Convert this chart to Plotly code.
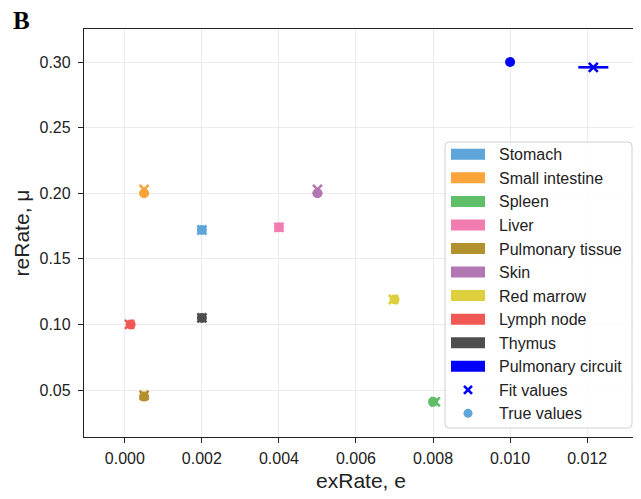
import plotly.graph_objects as go

organs = ["Stomach", "Small intestine", "Spleen", "Liver", "Pulmonary tissue",
          "Skin", "Red marrow", "Lymph node", "Thymus", "Pulmonary circuit"]
colors = ["#5DA5DA", "#FAA43A", "#60BD68", "#F17CB0", "#B2912F",
          "#B276B2", "#DECF3F", "#F15854", "#4D4D4D", "#0000FF"]

true_ex = [0.0020, 0.0005, 0.0080, 0.0040, 0.0005, 0.0050, 0.0070, 0.00015, 0.0020, 0.0100]
true_re = [0.172, 0.200, 0.041, 0.174, 0.045, 0.200, 0.119, 0.100, 0.105, 0.300]
fit_ex = [0.0020, 0.0005, 0.00806, 0.0040, 0.0005, 0.0050, 0.00697, 0.00012, 0.0020, 0.01216]
fit_re = [0.172, 0.203, 0.041, 0.174, 0.046, 0.203, 0.119, 0.100, 0.105, 0.296]
fit_ex_err = [0.00002, 0.00002, 0.00003, 0.00002, 0.00002, 0.00002, 0.00003, 0.00002, 0.00002, 0.00039]

x_ticks = [0.000, 0.002, 0.004, 0.006, 0.008, 0.010, 0.012]
y_ticks = [0.05, 0.10, 0.15, 0.20, 0.25, 0.30]

FONT = "Liberation Sans, Arial, sans-serif"
OFF = 8  # page body margin of the html page

fig = go.Figure()

for i, name in enumerate(organs):
    fig.add_trace(go.Scatter(
        x=[fit_ex[i]], y=[fit_re[i]], mode="markers",
        marker=dict(symbol="x-thin", size=9, color=colors[i],
                    line=dict(width=2.6, color=colors[i])),
        error_x=dict(type="data", array=[fit_ex_err[i]], color=colors[i],
                     thickness=2.6, width=0),
        showlegend=False, name=name + " fit"))
    fig.add_trace(go.Scatter(
        x=[true_ex[i]], y=[true_re[i]], mode="markers",
        marker=dict(symbol="circle", size=10, color=colors[i], line=dict(width=0)),
        showlegend=False, name=name + " true"))

# plot area in page pixels (reference)
L, R, T, B = 84, 638, 29, 437
def px(x):
    return (x - L) / (R - L)
def py(y):
    return (B - y) / (B - T)

def rounded_box(x0, y0, x1, y1, r):
    # pixel coords (y downwards) -> paper path with rounded corners
    pts = [f"M {px(x0 + r)},{py(y0)}",
           f"L {px(x1 - r)},{py(y0)}",
           f"Q {px(x1)},{py(y0)} {px(x1)},{py(y0 + r)}",
           f"L {px(x1)},{py(y1 - r)}",
           f"Q {px(x1)},{py(y1)} {px(x1 - r)},{py(y1)}",
           f"L {px(x0 + r)},{py(y1)}",
           f"Q {px(x0)},{py(y1)} {px(x0)},{py(y1 - r)}",
           f"L {px(x0)},{py(y0 + r)}",
           f"Q {px(x0)},{py(y0)} {px(x0 + r)},{py(y0)} Z"]
    return " ".join(pts)

shapes = []
annotations = []
shapes.append(dict(type="path", xref="paper", yref="paper",
                   path=rounded_box(445, 142, 632, 428, 4),
                   line=dict(color="#d0d0d0", width=1), fillcolor="rgba(255,255,255,0.85)",
                   layer="above"))
row0, step = 154.3, 23.55
legend_labels = organs + ["Fit values", "True values"]
for k, lab in enumerate(legend_labels):
    yc = row0 + k * step
    if k < len(organs):
        shapes.append(dict(type="rect", xref="paper", yref="paper",
                           x0=px(451), x1=px(485), y0=py(yc + 5.5), y1=py(yc - 5.5),
                           line=dict(width=0), fillcolor=colors[k], layer="above"))
    elif lab == "Fit values":
        for (a, b) in [((-4, -4), (4, 4)), ((-4, 4), (4, -4))]:
            shapes.append(dict(type="line", xref="paper", yref="paper",
                               x0=px(468 + a[0]), y0=py(yc + a[1]),
                               x1=px(468 + b[0]), y1=py(yc + b[1]),
                               line=dict(color="#0000FF", width=2.6), layer="above"))
    else:
        shapes.append(dict(type="circle", xref="paper", yref="paper",
                           x0=px(463.5), x1=px(472.5), y0=py(yc + 4.5), y1=py(yc - 4.5),
                           line=dict(width=0), fillcolor="#5DA5DA", layer="above"))
    annotations.append(dict(xref="paper", yref="paper", x=px(497), y=py(yc + 0.5),
                            text=lab, showarrow=False, xanchor="left", yanchor="middle",
                            font=dict(size=16, color="#222222", family=FONT)))

annotations.append(dict(xref="paper", yref="paper", x=px(11), y=py(20),
                        text="<b>B</b>", showarrow=False, xanchor="left", yanchor="middle",
                        font=dict(size=25, color="black",
                                  family="Liberation Serif, Times New Roman, serif")))

axis_common = dict(showline=True, mirror=True, linecolor="#222222", linewidth=1.3,
                   ticks="outside", ticklen=5, tickwidth=1.2, tickcolor="#222222",
                   showgrid=True, gridcolor="#ebebeb", gridwidth=1, zeroline=False,
                   tickfont=dict(size=16, color="#222222", family=FONT))

fig.update_layout(
    width=641, height=499,
    margin=dict(l=L - OFF, r=641 - R + OFF, t=T - OFF, b=499 - B + OFF, autoexpand=False),
    paper_bgcolor="white", plot_bgcolor="white",
    showlegend=False,
    shapes=shapes, annotations=annotations,
    xaxis=dict(range=[-0.00106, 0.01332], tickvals=x_ticks,
               ticktext=[f"{v:.3f}" for v in x_ticks], ticklabelstandoff=2,
               title=dict(text="exRate, e", standoff=6,
                          font=dict(size=21, color="#222222", family=FONT)),
               **axis_common),
    yaxis=dict(range=[0.0142, 0.3252], tickvals=y_ticks,
               ticktext=[f"{v:.2f}" for v in y_ticks], ticklabelstandoff=4,
               title=dict(text="reRate, μ", standoff=4,
                          font=dict(size=21, color="#222222", family=FONT)),
               **axis_common),
)

fig.write_html("out.html")
